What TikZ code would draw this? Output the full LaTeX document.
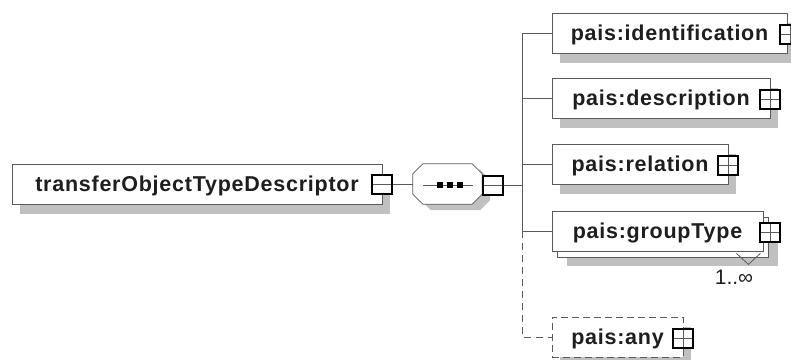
\documentclass[tikz,border=0pt]{standalone}
\usepackage{fontspec}
\setmainfont{Liberation Sans}
\newfontfamily\xsdfont[LetterSpace=3.5]{Liberation Sans}
\usetikzlibrary{positioning}
\usetikzlibrary{calc,shadows}
\definecolor{edgegray}{RGB}{90,90,90}
\definecolor{shadegray}{RGB}{192,192,192}
\definecolor{inkgray}{RGB}{30,30,30}
\tikzset{
  elembase/.style={draw=edgegray, fill=white, line width=0.8pt, minimum height=40pt, inner sep=0pt,
    text height=16pt, text depth=2pt,
    text=inkgray, font=\xsdfont\bfseries\fontsize{21.5}{21.5}\selectfont},
  elem/.style={elembase, drop shadow={shadow xshift=8pt, shadow yshift=-10pt, opacity=1, fill=shadegray}},
  multielem/.style={elembase, drop shadow={shadow xshift=15pt, shadow yshift=-15pt, opacity=1, fill=shadegray},
    copy shadow={shadow xshift=5pt, shadow yshift=-6pt}},
  optelem/.style={elem, dash pattern=on 7pt off 4pt},
  pmbox/.style={draw=black, line width=2pt, fill=white, minimum width=20pt, minimum height=19pt, inner sep=0pt},
  plusbox/.style={pmbox, path picture={\draw[edgegray, line width=0.8pt]
    (path picture bounding box.north) -- (path picture bounding box.south)
    (path picture bounding box.west) -- (path picture bounding box.east);}},
  minusbox/.style={pmbox, path picture={\draw[edgegray, line width=0.8pt]
    (path picture bounding box.west) -- (path picture bounding box.east);}},
  branch/.style={draw=edgegray, line width=0.8pt},
  optbranch/.style={branch, dash pattern=on 7pt off 5pt},
}
\begin{document}
\begin{tikzpicture}[x=1pt, y=-1pt]
  \useasboundingbox (0,0) rectangle (791,359);
  % root element
  \node[elem, minimum width=370pt] (tot) at (197,184) {transferObjectTypeDescriptor};
  \node[minusbox] (totm) at (tot.east) {};

  % sequence compositor
  \node[minimum width=69pt, minimum height=40pt, inner sep=0pt] (seq) at (447.5,184) {};
  \draw[branch, fill=white, drop shadow={shadow xshift=8pt, shadow yshift=-6pt, opacity=1, fill=shadegray}]
    ($(seq.north west)+(10,0)$) -- ($(seq.north east)+(-10,0)$) -- ($(seq.north east)+(0,10)$)
    -- ($(seq.south east)+(0,-10)$) -- ($(seq.south east)+(-10,0)$) -- ($(seq.south west)+(10,0)$)
    -- ($(seq.south west)+(0,-10)$) -- ($(seq.north west)+(0,10)$) -- cycle;
  \draw[branch] ($(seq.west)+(10,1)$) -- ($(seq.east)+(-9,1)$);
  \foreach \dx in {-7.5,2.5,12.5}
    \fill[black] ($(seq.center)+(\dx,1)$) ++(-3,-3) rectangle ++(6,6);
  \node[minusbox, anchor=west] (seqm) at ($(seq.east)+(0,1.5)$) {};
  \draw[branch] (totm.east) -- (seq.west);

  % children
  \node[elem, minimum width=235pt] (ident) at (669.5,33) {pais:identification};
  \node[elem, minimum width=218pt] (desc) at (661,98) {pais:description};
  \node[elem, minimum width=176pt] (rel) at (640,164) {pais:relation};
  \node[multielem, minimum width=211pt] (group) at (657.5,231) {pais:groupType};
  \node[optelem, minimum width=131pt] (any) at (617.5,337) {pais:any};

  \node[plusbox] (identp) at ($(ident.east)+(3,1.5)$) {};
  \node[plusbox] (descp) at ($(desc.east)+(0,1.5)$) {};
  \node[plusbox] (relp) at ($(rel.east)+(0,1.5)$) {};
  \node[plusbox] (groupp) at ($(group.east)+(7,1)$) {};
  \node[plusbox] (anyp) at ($(any.east)+(0,1)$) {};

  \draw[edgegray, line width=0.8pt] ($(group.south east)+(-27,2)$) -- ($(group.south east)+(-15,13)$) -- ($(group.south east)+(-3,2)$);
  \node[text=inkgray, font=\fontsize{21}{21}\selectfont] (groupocc) at (734,277) {1..∞};

  % spine
  \coordinate (spine) at (522,33);
  \draw[branch] (seqm.east) -- (seqm.east -| spine);
  \draw[branch] (spine) -- (group.west -| spine);
  \draw[optbranch] (group.west -| spine) -- (any.west -| spine) -- (any.west);
  \foreach \kid in {ident,desc,rel,group}
    \draw[branch] (\kid.west -| spine) -- (\kid.west);
\end{tikzpicture}
\end{document}
